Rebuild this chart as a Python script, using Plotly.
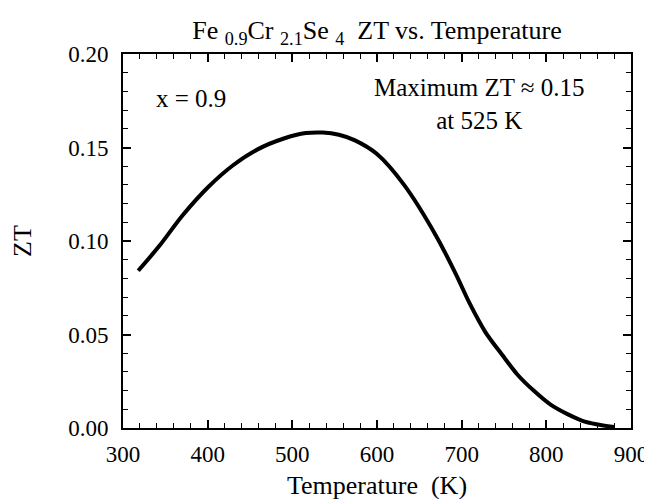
import plotly.graph_objects as go

temperature_K = [318, 343, 370, 401, 430, 459, 490, 516, 536, 555, 574, 600, 632, 670, 694, 709, 728, 748, 766, 786, 805, 825, 842, 859, 880]
zt_values = [0.0841, 0.0974, 0.1135, 0.129, 0.1405, 0.149, 0.1548, 0.1577, 0.158, 0.1568, 0.1538, 0.1465, 0.130, 0.1026, 0.0815, 0.067, 0.0513, 0.039, 0.0285, 0.0196, 0.0125, 0.0074, 0.0040, 0.002, 0.0005]

x_ticks = [300, 400, 500, 600, 700, 800, 900]
y_ticks = [0.00, 0.05, 0.10, 0.15, 0.20]

FONT = "Liberation Serif"

fig = go.Figure()
fig.add_trace(go.Scatter(
    x=temperature_K, y=zt_values, mode="lines",
    line=dict(color="black", width=4, shape="spline", smoothing=0.8),
    showlegend=False, hoverinfo="skip",
))

axis_common = dict(
    showline=True, linecolor="black", linewidth=2, mirror="ticks",
    ticks="inside", tickcolor="black", tickwidth=1.5, ticklen=8,
    showgrid=False, zeroline=False,
    tickfont=dict(family=FONT, size=23, color="black"),
)

fig.update_xaxes(
    range=[300, 900], tickvals=x_ticks, ticktext=[str(v) for v in x_ticks],
    minor=dict(dtick=20, ticks="inside", ticklen=5, tickcolor="black", tickwidth=1.2),
    ticklabelstandoff=4,
    title=dict(text="Temperature  (K)", font=dict(family=FONT, size=26, color="black"), standoff=10),
    **axis_common,
)
fig.update_yaxes(
    range=[0, 0.20], tickvals=y_ticks, ticktext=[f"{v:.2f}" for v in y_ticks],
    minor=dict(dtick=0.01, ticks="inside", ticklen=5, tickcolor="black", tickwidth=1.2),
    ticklabelstandoff=8,
    title=dict(text="ZT", font=dict(family=FONT, size=26, color="black"), standoff=30),
    **axis_common,
)

fig.add_annotation(x=0.133, y=0.881, xref="paper", yref="paper", text="x = 0.9",
                   xanchor="center", yanchor="middle",
                   showarrow=False, font=dict(family=FONT, size=25, color="black"))
fig.add_annotation(x=0.70, y=0.866, xref="paper", yref="paper",
                   text="Maximum ZT ≈ 0.15<br>at 525 K", align="center",
                   xanchor="center", yanchor="middle",
                   showarrow=False, font=dict(family=FONT, size=25, color="black"))

fig.update_layout(
    width=652, height=499,
    margin=dict(l=113, r=20, t=46, b=75),
    paper_bgcolor="white", plot_bgcolor="white",
    title=dict(text="Fe <sub>0.9</sub>Cr <sub>2.1</sub>Se <sub>4</sub>  ZT vs. Temperature",
               x=0.5, xref="paper", xanchor="center", y=0.956, yref="container", yanchor="middle",
               font=dict(family=FONT, size=26, color="black")),
)

fig.write_html("out.html")
